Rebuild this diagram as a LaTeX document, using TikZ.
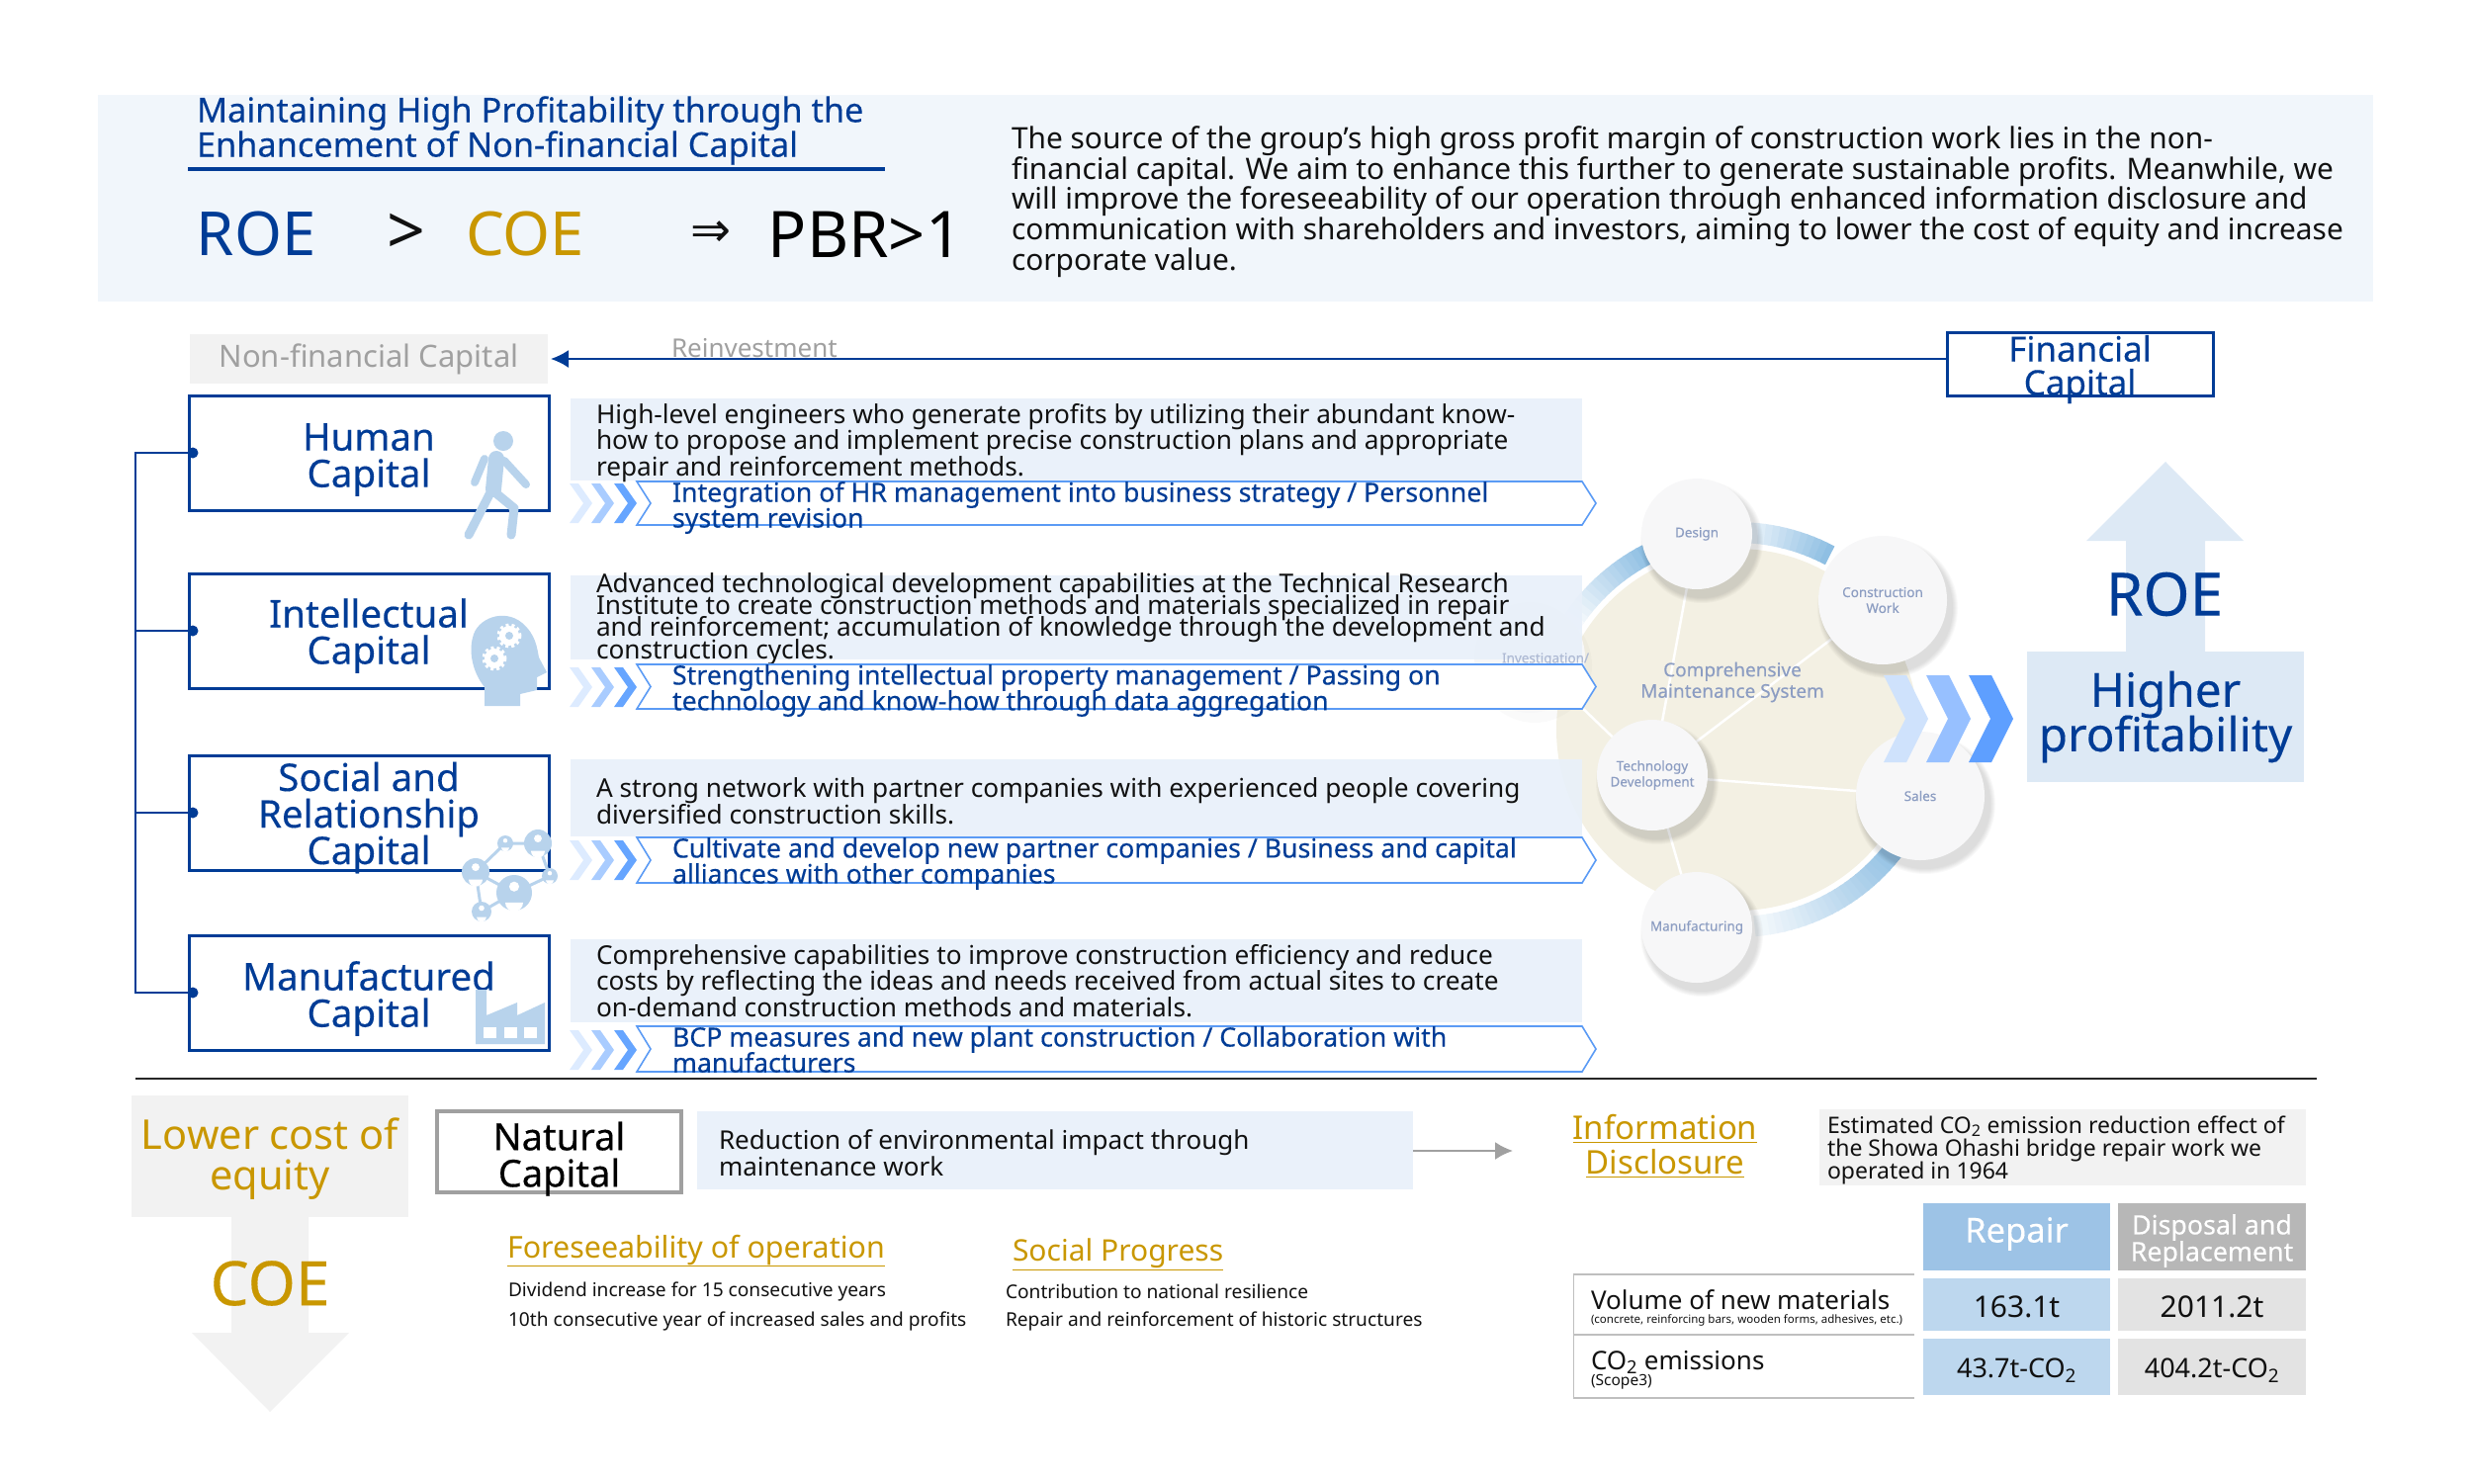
\documentclass[tikz,border=0pt]{standalone}
\usepackage{fontspec}
\setmainfont{Noto Sans}
\newfontfamily\med[FakeBold=0.25]{Noto Sans}
\newfontfamily\symb{DejaVu Sans}
\usetikzlibrary{arrows.meta,backgrounds}
\definecolor{nblue}{HTML}{003C96}
\definecolor{ink}{HTML}{111111}
\definecolor{gold}{HTML}{C99700}
\definecolor{headbg}{HTML}{F1F6FB}
\definecolor{bandbg}{HTML}{E8F0FA}
\definecolor{edgeblue}{HTML}{5B9BF5}
\definecolor{greybg}{HTML}{F2F2F2}
\definecolor{midgrey}{HTML}{A0A0A0}
\definecolor{icon}{HTML}{B8D3EC}
\definecolor{palebox}{HTML}{DDE9F5}
\definecolor{beige}{HTML}{F3F0E3}
\definecolor{ring}{HTML}{8FBFE3}
\definecolor{disc}{HTML}{F7F7F8}
\definecolor{disctext}{HTML}{8C9DC2}
\definecolor{repairhead}{HTML}{9DC3E6}
\definecolor{repaircell}{HTML}{BDD7EE}
\definecolor{disphead}{HTML}{B7B7B7}
\definecolor{dispcell}{HTML}{E3E3E3}
\newcommand{\fsz}[2]{\fontsize{#1}{#2}\selectfont\lineskiplimit=-100pt\relax}
\tikzset{
 x=1pt,y=-1pt,
 every node/.style={inner sep=0pt,outer sep=0pt},
 capbox/.style={draw=nblue,line width=3pt,fill=white,minimum width=364pt,minimum height=116pt},
 caplabel/.style={text=nblue,align=center,font=\med\fsz{38.5}{37}},
 desc/.style={anchor=west,align=left,text=ink,font=\fsz{26.2}{26.5}},
 action/.style={anchor=west,align=left,text=nblue,font=\med\fsz{26.7}{26}},
 band/.style={anchor=north west,fill=bandbg,fill opacity=.9},
 pentagon/.style={fill=white,draw=edgeblue,line width=1.6pt},
 disclabel/.style={text=disctext,align=center,font=\med\fsz{13.5}{16}},
 dischape/.style={circle,fill=disc,text=disctext,align=center,font=\med\fsz{13.5}{16}},
 link/.style={draw=white,line width=2.5pt},
 cell/.style={anchor=north west},
 celltext/.style={text=ink},
 goldhead/.style={anchor=west,text=gold},
 small/.style={anchor=west,text=ink,font=\fsz{19.15}{20}},
}
\newcommand{\softshadow}[3]{\foreach \k in {0,...,5}{\fill[black,opacity=.025] (#1+5,#2+8) circle[radius=#3+6-\k];}}
\newcommand{\chevrons}[1]{%
 \foreach \cx/\cc in {576/DDEBFF,598/A9CCFF,621/66A5FF}{%
  \definecolor{cfill}{HTML}{\cc}%
  \fill[cfill] (\cx,#1-20)--(\cx+9,#1-20)--(\cx+23,#1)--(\cx+9,#1+20)--(\cx,#1+20)--(\cx+14,#1)--cycle;}}
\newcommand{\pentagonbox}[2]{%
 \draw[pentagon] (644,#1)--(1600,#1)--(1614,{(#1+#2)/2})--(1600,#2)--(644,#2)--(658,{(#1+#2)/2})--cycle;}
\newcommand{\bigchev}[2]{\fill[#2] (#1,683)--(#1+23,683)--(#1+45,727)--(#1+23,771)--(#1,771)--(#1+22,727)--cycle;}
\newcommand{\gear}[2]{\draw[white,line width=3pt,dash pattern=on 3pt off 3pt] (#1,#2) circle[radius=11];\fill[white] (#1,#2) circle[radius=10];\fill[icon] (#1,#2) circle[radius=4];}
\newcommand{\person}[3]{\fill[icon] (#1,#2) circle[radius=#3];\fill[white] (#1,#2-#3*.35) circle[radius=#3*.28];\fill[white] (#1-#3*.5,#2+#3*.55) arc[start angle=180,end angle=0,x radius=#3*.5,y radius=#3*.5]--cycle;}
\begin{document}
\begin{tikzpicture}
\useasboundingbox (0,0) rectangle (2500,1500);
% header
\node[anchor=north west,fill=headbg,minimum width=2301pt,minimum height=209pt] (header) at (99,96) {};
\node[anchor=west,align=left,text=nblue,font=\med\fsz{34.3}{35}] (title) at (199,132) {Maintaining High Profitability through the\\Enhancement of Non-financial Capital};
\coordinate (ruleL) at (190,171); \coordinate (ruleR) at (895,171);
\draw[nblue,line width=3.5pt] (ruleL)--(ruleR);
\node[text=nblue,font=\fsz{61.5}{62}] (roe) at (259,237) {ROE};
\node[text=ink,font=\fsz{68}{68}] (gt) at (411,237) {>};
\node[text=gold,font=\fsz{61.5}{62}] (coe) at (531,237) {COE};
\node[text=ink,font=\symb\fsz{49}{50}] (imp) at (719,237) {⇒};
\node[text=black,font=\fsz{65}{66}] (pbr) at (875,237) {PBR>1};
\node[anchor=west,align=left,text=ink,font=\fsz{29.85}{30.6}] (intro) at (1023,204) {The source of the group’s high gross profit margin of construction work lies in the non-\\financial capital. We aim to enhance this further to generate sustainable profits. Meanwhile, we\\will improve the foreseeability of our operation through enhanced information disclosure and\\communication with shareholders and investors, aiming to lower the cost of equity and increase\\corporate value.};
% top row
\node[anchor=north west,fill=greybg,minimum width=362pt,minimum height=50pt,text=midgrey,font=\fsz{31}{32}] (nonfin) at (192,338) {Non-financial Capital};
\node[anchor=north west,draw=nblue,line width=3pt,fill=white,minimum width=269pt,minimum height=64pt] (fin) at (1969,336) {};
\node[text=nblue,align=center,font=\med\fsz{35}{34},yshift=-5.5pt] (finlabel) at (fin.center) {Financial\\Capital};
\draw[nblue,line width=2pt,shorten >=3pt,-{Latex[length=18pt,width=18pt]}] (fin.west |- nonfin.east)--(nonfin.east);
\node[anchor=west,text=midgrey,font=\fsz{26}{28}] (reinvest) at (679,352) {Reinvestment};
% comprehensive system: discs
\softshadow{1716}{540}{56}\softshadow{1904}{607}{65}\softshadow{1942}{805}{65}\softshadow{1671}{784}{56}\softshadow{1716}{938}{56}
\fill[black,opacity=.02] (1552,673) circle[radius=58];
\node[dischape,minimum size=112pt] (design) at (1716,540) {Design};
\node[dischape,minimum size=130pt] (construction) at (1904,607) {Construction\\Work};
\node[dischape,minimum size=130pt] (sales) at (1942,805) {Sales};
\node[dischape,minimum size=112pt] (techdev) at (1671,784) {Technology\\Development};
\node[dischape,minimum size=112pt] (manufacturing) at (1716,938) {Manufacturing};
\node[dischape,minimum size=112pt] (investigation) at (1547,665) {};
\begin{scope}[on background layer]
 \coordinate (hub) at (1757,738);
 \fill[beige] (hub) circle[radius=183];
 \foreach \a in {62,64,...,84}{\pgfmathtruncatemacro\p{100-(\a-62)*3.5}
  \draw[ring!\p!white,line width=21pt] ({1757+199.5*cos(\a)},{738-199.5*sin(\a)}) -- ({1757+199.5*cos(\a+2.5)},{738-199.5*sin(\a+2.5)});}
 \foreach \a in {117,119,...,145}{\pgfmathtruncatemacro\p{100-(\a-117)*3.3}
  \draw[ring!\p!white,line width=21pt] ({1757+199.5*cos(\a)},{738-199.5*sin(\a)}) -- ({1757+199.5*cos(\a+2.5)},{738-199.5*sin(\a+2.5)});}
 \foreach \a in {-85,-83,...,-38}{\pgfmathtruncatemacro\p{10+(\a+85)*1.9}
  \draw[ring!\p!white,line width=21pt] ({1757+199.5*cos(\a)},{738-199.5*sin(\a)}) -- ({1757+199.5*cos(\a+2.5)},{738-199.5*sin(\a+2.5)});}
 \draw[link] (techdev.center)--(design.center);
 \draw[link] (techdev.center)--(construction.center);
 \draw[link] (techdev.center)--(sales.center);
 \draw[link] (techdev.center)--(manufacturing.center);
 \draw[link] (techdev.center)--(investigation.center);
\end{scope}
\node[disclabel,font=\med\fsz{19}{21.5}] (system) at (1752,690) {Comprehensive\\Maintenance System};
% capital boxes
\node[capbox] (human) at (373,458) {};
\node[capbox] (intellectual) at (373,638) {};
\node[capbox] (social) at (373,822) {};
\node[capbox] (manufactured) at (373,1004) {};
\node[caplabel,yshift=-7pt] (humanlabel) at (human.center) {Human\\Capital};
\node[caplabel,yshift=-5pt] (intellectuallabel) at (intellectual.center) {Intellectual\\Capital};
\node[caplabel,yshift=-5pt] (sociallabel) at (social.center) {Social and\\Relationship\\Capital};
\node[caplabel,yshift=-6pt] (manufacturedlabel) at (manufactured.center) {Manufactured\\Capital};
\coordinate (trunkTop) at (137,458); \coordinate (trunkBottom) at (137,1004);
\draw[nblue,line width=2pt] (human.west)--(trunkTop)--(trunkBottom)--(manufactured.west);
\draw[nblue,line width=2pt] (intellectual.west)--(intellectual.west -| trunkTop);
\draw[nblue,line width=2pt] (social.west)--(social.west -| trunkTop);
\foreach \b in {human,intellectual,social,manufactured}{\fill[nblue] (\b.west) ++(4,0) circle[radius=5.5];}
% bands
\node[band,minimum width=1023pt,minimum height=83pt] (b1) at (577,403) {};
\node[band,minimum width=1023pt,minimum height=85pt] (b2) at (577,582) {};
\node[band,minimum width=1023pt,minimum height=78pt] (b3) at (577,768) {};
\node[band,minimum width=1023pt,minimum height=84pt] (b4) at (577,950) {};
\node[disclabel,text=disctext!70!white] (invlabel) at (1563,667) {Investigation/};
\node[desc] (d1) at (603,448) {High-level engineers who generate profits by utilizing their abundant know-\\how to propose and implement precise construction plans and appropriate\\repair and reinforcement methods.};
\node[desc,font=\fsz{26.2}{22.3}] (d2) at (603,626) {Advanced technological development capabilities at the Technical Research\\Institute to create construction methods and materials specialized in repair\\and reinforcement; accumulation of knowledge through the development and\\construction cycles.};
\node[desc] (d3) at (603,810) {A strong network with partner companies with experienced people covering\\diversified construction skills.};
\node[desc] (d4) at (603,992) {Comprehensive capabilities to improve construction efficiency and reduce\\costs by reflecting the ideas and needs received from actual sites to create\\on-demand construction methods and materials.};
\pentagonbox{487}{531}\pentagonbox{672}{717}\pentagonbox{847}{893}\pentagonbox{1038}{1084}
\chevrons{509}\chevrons{695}\chevrons{870}\chevrons{1062}
\node[action] (a1) at (680,513.5) {Integration of HR management into business strategy / Personnel\\system revision};
\node[action] (a2) at (680,698.5) {Strengthening intellectual property management / Passing on\\technology and know-how through data aggregation};
\node[action] (a3) at (680,873.5) {Cultivate and develop new partner companies / Business and capital\\alliances with other companies};
\node[action] (a4) at (680,1061.5) {BCP measures and new plant construction / Collaboration with\\manufacturers};
% walking person
\fill[icon] (509,446) circle[radius=10];
\begin{scope}[icon,line cap=round,line join=round]
 \draw[line width=16pt] (502,464)--(499,495);
 \draw[line width=8pt] (490,464)--(480,488);
 \draw[line width=8pt] (510,466)--(532,490);
 \draw[line width=9pt] (495,500)--(474,541);
 \draw[line width=9pt] (503,500)--(520,514)--(517,541);
\end{scope}
% head
\fill[icon] (490,714)--(490,695) .. controls (478,680) and (474,660) .. (478,645) .. controls (482,625) and (510,615) .. (528,630) .. controls (542,642) and (543,655) .. (545,665)--(553,680)--(543,685)--(543,698)--(526,702)--(526,714)--cycle;
\gear{515}{643}\gear{500}{666}
% network
\draw[icon,line width=3pt] (511,853)--(544,853)--(556,886)--(520,903)--(487,922)--(481,882)--(511,853) (481,882)--(520,903);
\person{511}{853}{8}\person{544}{853}{14}\person{481}{882}{14}\person{520}{903}{18}\person{556}{886}{8}\person{487}{922}{10}
% factory
\fill[icon] (481,1056)--(481,1001)--(492,1001)--(492,1027)--(523,1014)--(523,1027)--(551,1014)--(551,1056)--cycle;
\foreach \wx in {489,510,530}{\fill[white] (\wx,1039) rectangle (\wx+13,1050);}
% right arrow and box
\fill[palebox] (2190,467)--(2269,547)--(2230,547)--(2230,665)--(2150,665)--(2150,547)--(2110,547)--cycle;
\node[anchor=north west,fill=palebox,minimum width=280pt,minimum height=132pt] (higher) at (2050,659) {};
\node[text=nblue,align=center,font=\med\fsz{47.5}{45}] (higherlabel) at (higher.center) {Higher\\profitability};
\node[text=nblue,font=\med\fsz{60.5}{61}] (roeup) at (2189,601) {ROE};
\definecolor{cha}{HTML}{CFE2FC}\definecolor{chb}{HTML}{97C0FF}\definecolor{chc}{HTML}{5E9FFF}
\bigchev{1905}{cha}\bigchev{1948}{chb}\bigchev{1991}{chc}
% separator
\coordinate (sepL) at (137,1091); \coordinate (sepR) at (2343,1091);
\draw[black!85,line width=2pt] (sepL)--(sepR);
% lower left
\fill[greybg] (234,1225)--(312,1225)--(312,1348)--(353,1348)--(273,1428)--(194,1348)--(234,1348)--cycle;
\node[anchor=north west,fill=greybg,minimum width=280pt,minimum height=123pt] (lower) at (133,1108) {};
\node[text=gold,align=center,font=\fsz{41.5}{41},yshift=-3pt] (lowerlabel) at (lower.center) {Lower cost of\\equity};
\node[text=gold,font=\med\fsz{62}{63}] (coedown) at (273,1298) {COE};
\node[anchor=north west,draw=midgrey,line width=3.5pt,fill=white,minimum width=247pt,minimum height=82pt] (natural) at (442,1124) {};
\node[text=black,align=center,font=\med\fsz{38}{37},yshift=-7pt] (naturallabel) at (natural.center) {Natural\\Capital};
\node[band,minimum width=724pt,minimum height=79pt] (natband) at (705,1124) {};
\node[desc,font=\fsz{26}{26.5}] (natdesc) at (727,1166) {Reduction of environmental impact through\\maintenance work};
\coordinate (infoarrow) at (1530,1164);
\draw[midgrey,line width=2pt,-{Latex[length=18pt,width=18pt]}] (natband.east |- infoarrow)--(infoarrow);
\node[goldhead,font=\fsz{30.4}{32}] (fore) at (513,1265) {\underline{Foreseeability of operation}};
\node[goldhead,font=\fsz{30}{32}] (progress) at (1024,1269) {\underline{Social Progress}};
\node[small] (s1) at (514,1306) {Dividend increase for 15 consecutive years};
\node[small] (s2) at (514,1336) {10th consecutive year of increased sales and profits};
\node[small] (s3) at (1017,1306) {Contribution to national resilience};
\node[small] (s4) at (1017,1336) {Repair and reinforcement of historic structures};
% information disclosure
\node[text=gold,align=center,font=\fsz{33}{35}] (info) at (1684,1159) {\underline{Information}\\\underline{Disclosure}};
\node[anchor=north west,fill=greybg,minimum width=492pt,minimum height=77pt] (co2box) at (1840,1122) {};
\node[anchor=west,align=left,text=ink,font=\fsz{23}{23}] (co2text) at (1848,1163) {Estimated CO\textsubscript{2} emission reduction effect of\\the Showa Ohashi bridge repair work we\\operated in 1964};
% table
\node[cell,fill=repairhead,minimum width=189pt,minimum height=68pt] (threp) at (1945,1217) {};
\node[text=white,font=\med\fsz{34.5}{36},yshift=3pt] at (threp.center) (threplabel) {Repair};
\node[cell,fill=disphead,minimum width=190pt,minimum height=68pt] (thdis) at (2142,1217) {};
\node[text=white,align=center,font=\med\fsz{26.8}{27},yshift=-4pt] at (thdis.center) (thdislabel) {Disposal and\\Replacement};
\node[cell,fill=repaircell,minimum width=189pt,minimum height=53pt] (r1a) at (1945,1293) {};
\node[cell,fill=dispcell,minimum width=190pt,minimum height=53pt] (r1b) at (2142,1293) {};
\node[cell,fill=repaircell,minimum width=189pt,minimum height=57pt] (r2a) at (1945,1354) {};
\node[cell,fill=dispcell,minimum width=190pt,minimum height=57pt] (r2b) at (2142,1354) {};
\node[celltext,font=\fsz{30}{32},yshift=-2pt] (r1al) at (r1a.center) {163.1t};
\node[celltext,font=\fsz{30}{32},yshift=-2pt] (r1bl) at (r1b.center) {2011.2t};
\node[celltext,font=\fsz{27}{29},yshift=-4pt] (r2al) at (r2a.center) {43.7t-CO\textsubscript{2}};
\node[celltext,font=\fsz{27}{29},yshift=-4pt] (r2bl) at (r2b.center) {404.2t-CO\textsubscript{2}};
\coordinate (tl1) at (1591,1289); \coordinate (tr1) at (1936,1289);
\coordinate (tl2) at (1591,1350); \coordinate (tr2) at (1936,1350);
\coordinate (tl3) at (1591,1414); \coordinate (tr3) at (1936,1414);
\draw[black!25,line width=2pt] (tl1)--(tr1) (tl2)--(tr2) (tl3)--(tr3);
\draw[black!25,line width=1pt] (tl1)--(tl3);
\node[anchor=west,text=ink,font=\fsz{26}{28}] (t1) at (1609,1315) {Volume of new materials};
\node[anchor=west,text=ink,font=\fsz{11.5}{13}] (t1s) at (1609,1335) {(concrete, reinforcing bars, wooden forms, adhesives, etc.)};
\node[anchor=west,text=ink,font=\fsz{26}{28}] (t2) at (1609,1378) {CO\textsubscript{2} emissions};
\node[anchor=west,text=ink,font=\fsz{15.5}{16}] (t2s) at (1609,1398) {(Scope3)};
\end{tikzpicture}
\end{document}
